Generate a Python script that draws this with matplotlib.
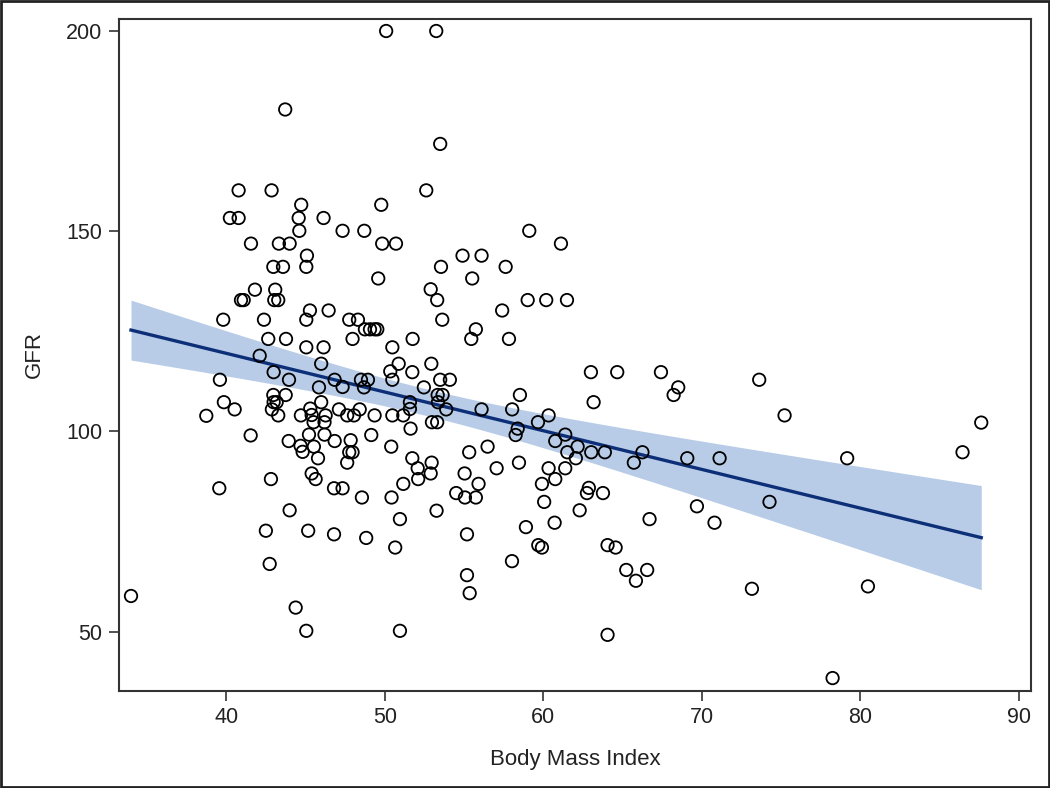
import matplotlib
matplotlib.use("Agg")
from matplotlib import pyplot as plt
from matplotlib.patches import Rectangle
import numpy as np

plt.rcParams['font.family'] = ['Liberation Sans', 'DejaVu Sans']

# points (BMI, GFR)
bmi = [43.72, 40.78, 42.86, 44.73, 40.23, 40.78, 44.57, 46.14, 44.61, 47.34,
       41.56, 43.32, 44.00, 45.09, 42.97, 43.58, 45.05, 41.81, 43.09, 40.93,
       41.10, 43.03, 43.28, 45.28, 46.46, 45.05, 39.81, 42.38, 42.65, 43.77,
       45.05, 46.14, 42.11, 45.99, 42.99, 39.60, 43.96, 46.84, 47.34, 45.85,
       42.97, 43.75, 42.99, 43.18, 45.99, 39.85, 40.53, 42.88, 45.30, 45.39,
       47.11, 43.28, 44.71, 46.27, 38.74, 45.51, 46.20, 45.22, 46.20, 41.54,
       43.94, 46.84, 44.69, 44.82, 45.53, 45.79,
       45.39, 45.64, 42.82, 39.56, 46.80, 47.34, 44.00, 42.50, 45.17, 46.80,
       42.74, 33.99, 44.38, 45.05,
       50.09, 53.25, 53.50, 52.62, 49.78, 48.71, 59.12, 49.84, 50.71, 61.12,
       54.91, 56.11, 53.55, 57.63, 49.59, 55.52, 52.90, 53.31, 59.02, 60.19,
       61.50, 57.41, 47.76, 48.31, 53.63, 48.75, 49.07, 49.36, 49.53, 55.75,
       55.46, 57.84, 47.97, 51.76, 50.48, 50.88, 52.94, 50.35, 50.48, 51.74,
       48.50, 48.94, 53.50, 54.11, 48.69, 52.47, 53.34, 53.65, 51.59, 53.36,
       58.53, 51.59, 53.88, 56.11, 58.04, 60.34, 48.42, 47.63, 48.06, 49.36,
       50.48, 51.17, 59.67, 52.98, 53.31, 58.39, 58.26, 51.63, 49.15, 61.39,
       47.85, 47.76, 47.97, 50.41, 60.76, 61.52, 55.33, 56.49, 51.74, 47.63,
       52.96, 58.47, 52.08, 57.06, 60.34, 61.39,
       55.04, 52.11, 52.90, 51.17, 48.56, 50.43, 54.51, 55.06, 55.75, 55.92,
       59.92, 60.76, 60.06, 53.27, 50.96, 58.91, 60.72, 48.83, 55.19, 50.66,
       59.69, 59.92, 58.03, 55.19, 55.36, 50.96,
       63.01, 64.67, 67.43, 68.52, 68.23, 63.18, 73.63, 75.23, 62.17, 62.06,
       63.03, 63.89, 66.26, 65.72, 69.09, 71.13,
       62.88, 62.76, 63.77, 62.30, 66.71, 69.70, 70.81, 74.28, 64.06, 64.57,
       65.24, 66.56, 65.85, 73.17, 64.06,
       79.18, 87.64, 86.46, 80.49, 78.26]

gfr = [180.4, 160.2, 160.2, 156.6, 153.3, 153.3, 153.3, 153.3, 150.1, 150.1,
       146.9, 146.9, 146.9, 143.9, 141.1, 141.1, 141.1, 135.4, 135.4, 132.8,
       132.8, 132.8, 132.8, 130.2, 130.2, 127.9, 127.9, 127.9, 123.1, 123.1,
       121.0, 121.0, 118.9, 116.9, 114.8, 112.9, 112.9, 112.9, 111.1, 111.0,
       109.1, 109.1, 107.3, 107.3, 107.3, 107.3, 105.5, 105.5, 105.7, 104.1,
       105.5, 104.0, 104.0, 104.0, 103.9, 102.3, 102.3, 99.2, 99.2, 99.0,
       97.6, 97.6, 96.4, 94.9, 96.2, 93.3,
       89.5, 88.1, 88.1, 85.8, 85.8, 85.8, 80.3, 75.2, 75.2, 74.3,
       66.9, 58.9, 56.0, 50.2,
       200.0, 200.0, 171.8, 160.2, 156.6, 150.1, 150.1, 146.9, 146.9, 146.9,
       143.9, 143.9, 141.1, 141.1, 138.2, 138.2, 135.5, 132.8, 132.8, 132.8,
       132.8, 130.2, 127.9, 127.9, 127.9, 125.5, 125.5, 125.5, 125.5, 125.5,
       123.1, 123.1, 123.1, 123.1, 121.0, 116.9, 116.9, 115.0, 112.9, 114.8,
       112.9, 112.9, 112.9, 112.9, 111.0, 111.0, 109.1, 109.1, 107.3, 107.3,
       109.1, 105.6, 105.5, 105.5, 105.5, 104.0, 105.5, 104.0, 104.0, 104.0,
       104.0, 104.0, 102.3, 102.3, 102.3, 100.7, 99.1, 100.7, 99.1, 99.2,
       97.8, 94.8, 94.8, 96.2, 97.6, 94.8, 94.8, 96.2, 93.3, 92.2,
       92.2, 92.2, 90.8, 90.8, 90.8, 90.8,
       89.5, 88.1, 89.5, 86.9, 83.5, 83.5, 84.6, 83.5, 83.5, 86.9,
       86.9, 88.1, 82.4, 80.2, 78.1, 76.1, 77.2, 73.4, 74.3, 71.0,
       71.6, 71.0, 67.6, 64.1, 59.6, 50.2,
       114.8, 114.8, 114.8, 111.0, 109.1, 107.3, 112.9, 104.0, 96.2, 93.3,
       94.8, 94.8, 94.8, 92.2, 93.3, 93.3,
       85.9, 84.6, 84.6, 80.3, 78.1, 81.3, 77.2, 82.4, 71.6, 71.0,
       65.4, 65.4, 62.7, 60.7, 49.2,
       93.3, 102.2, 94.8, 61.3, 38.4]

x_ticks = [40, 50, 60, 70, 80, 90]
y_ticks = [50, 100, 150, 200]

x = np.array(bmi)
y = np.array(gfr)

# linear fit with 95% confidence band
n = len(x)
slope, intercept = np.polyfit(x, y, 1)
xs = np.linspace(x.min(), x.max(), 200)
fit = intercept + slope * xs
resid = y - (intercept + slope * x)
s = np.sqrt(np.sum(resid ** 2) / (n - 2))
se = s * np.sqrt(1 / n + (xs - x.mean()) ** 2 / np.sum((x - x.mean()) ** 2))
lo = fit - 1.97 * se
hi = fit + 1.97 * se

fig = plt.figure(figsize=(10.5, 7.88), dpi=100)
ax = fig.add_axes([0.1133, 0.1235, 0.8683, 0.8524])

ax.fill_between(xs, lo, hi, color='#b8cce8', linewidth=0, zorder=1)
ax.plot(xs, fit, color='#0d2f78', linewidth=2.4, zorder=2)
ax.scatter(x, y, s=80, facecolors='none', edgecolors='black', linewidths=1.3, zorder=3)

ax.set_xlim(33.23, 90.76)
ax.set_ylim(35.25, 203.0)
ax.set_xticks(x_ticks)
ax.set_yticks(y_ticks)
ax.tick_params(direction='out', length=7, width=1.2, color='#333333',
               labelsize=15.5, labelcolor='#222222', pad=5)
for sp in ax.spines.values():
    sp.set_color('#333333')
    sp.set_linewidth(1.5)

ax.set_xlabel('Body Mass Index', fontsize=16, color='#222222', labelpad=15)
ax.set_ylabel('GFR', fontsize=16, color='#222222', labelpad=15)

# outer frame
fig.patches.append(Rectangle((0.001, 0.001), 0.998, 0.998, transform=fig.transFigure,
                             fill=False, edgecolor='#222222', linewidth=2))

fig.savefig('out.png', dpi=100)
